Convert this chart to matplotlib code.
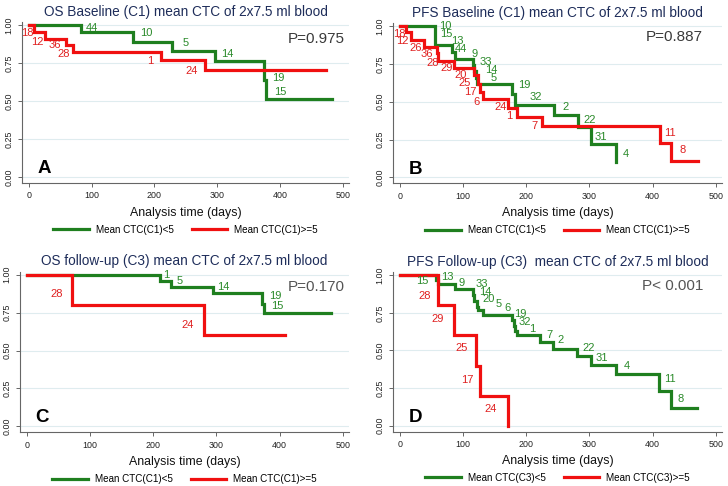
import matplotlib
matplotlib.use("Agg")
import matplotlib.pyplot as plt

plt.rcParams['font.family'] = ['Liberation Sans', 'DejaVu Sans']

GREEN = "#1f7f1f"
RED = "#f01010"
GREEN_TXT = "#2a8a2a"
RED_TXT = "#e02020"

# --- panel A: OS baseline ---
a_green_t = [0, 83, 166, 228, 296, 374, 377, 483]
a_green_s = [1, 0.955, 0.89, 0.83, 0.763, 0.638, 0.51, 0.51]
a_red_t = [0, 8, 26, 59, 71, 211, 281, 474]
a_red_s = [1, 0.955, 0.91, 0.868, 0.823, 0.77, 0.706, 0.706]
a_green_ids = ["44", "10", "5", "14", "19", "15"]
a_green_x = [100, 187, 250, 316, 397, 401]
a_green_y = [0.98, 0.945, 0.88, 0.81, 0.65, 0.56]
a_red_ids = ["18", "12", "36", "28", "1", "24"]
a_red_x = [-3, 14, 41, 56, 194, 259]
a_red_y = [0.95, 0.89, 0.87, 0.81, 0.76, 0.70]

# --- panel B: PFS baseline ---
b_green_t = [0, 56, 82, 87, 115, 118, 120, 122, 178, 182, 244, 282, 302, 342]
b_green_s = [1, 0.874, 0.83, 0.78, 0.74, 0.70, 0.66, 0.62, 0.55, 0.48,
             0.41, 0.33, 0.22, 0.105]
b_red_t = [0, 9.5, 17, 38.5, 58, 61, 85, 118, 123, 127, 132, 171, 186,
           225, 412, 429, 472]
b_red_s = [1, 0.96, 0.907, 0.863, 0.82, 0.77, 0.72, 0.676, 0.62, 0.566,
           0.516, 0.456, 0.397, 0.339, 0.229, 0.11, 0.11]
b_green_ids = ["10", "15", "13", "44", "9", "33", "14", "5", "19", "32",
               "2", "22", "31", "4"]
b_green_x = [72, 74, 91, 97, 118, 136, 144, 149, 197, 215, 262, 300, 318, 357]
b_green_y = [1.0, 0.945, 0.90, 0.846, 0.815, 0.764, 0.709, 0.654, 0.61,
             0.533, 0.467, 0.379, 0.268, 0.154]
b_red_ids = ["18", "12", "26", "36", "28", "29", "20", "25", "17", "6",
             "24", "1", "7", "11", "8"]
b_red_x = [-1, 4, 25, 43, 52, 74, 96, 103, 111, 122, 159, 173, 213, 428, 447]
b_red_y = [0.95, 0.90, 0.857, 0.815, 0.757, 0.72, 0.676, 0.625, 0.566,
           0.50, 0.467, 0.405, 0.339, 0.295, 0.18]

# --- panel C: OS follow-up ---
c_green_t = [0, 211, 228, 294, 373, 375, 482]
c_green_s = [1, 0.957, 0.92, 0.877, 0.81, 0.75, 0.75]
c_red_t = [0, 72, 280, 408]
c_red_s = [1, 0.80, 0.60, 0.60]
c_green_ids = ["1", "5", "14", "19", "15"]
c_green_x = [221, 242, 311, 393, 396]
c_green_y = [1.0, 0.96, 0.916, 0.857, 0.791]
c_red_ids = ["28", "24"]
c_red_x = [47, 254]
c_red_y = [0.873, 0.67]

# --- panel D: PFS follow-up ---
d_green_t = [0, 57, 61, 87, 115, 118, 122, 124, 132, 178, 180, 182, 185,
             222, 243, 281, 302, 342, 411, 429, 470]
d_green_s = [1, 0.97, 0.943, 0.911, 0.87, 0.83, 0.79, 0.768, 0.734, 0.70,
             0.665, 0.63, 0.60, 0.557, 0.512, 0.462, 0.406, 0.346, 0.233,
             0.118, 0.118]
d_red_t = [0, 60, 85, 121, 126, 170.5]
d_red_s = [1, 0.80, 0.60, 0.40, 0.20, 0.0]
d_green_ids = ["15", "13", "9", "33", "14", "20", "5", "6", "19", "32",
               "1", "7", "2", "22", "31", "4", "11", "8"]
d_green_x = [36, 75, 98, 129, 135, 141, 157, 170, 191, 197, 209, 237, 254,
             299, 320, 360, 427, 445]
d_green_y = [0.96, 0.987, 0.95, 0.94, 0.89, 0.84, 0.81, 0.783, 0.745, 0.69,
             0.643, 0.605, 0.568, 0.517, 0.45, 0.40, 0.31, 0.18]
d_red_ids = ["28", "29", "25", "17", "24"]
d_red_x = [39, 60, 97, 106, 143]
d_red_y = [0.865, 0.71, 0.517, 0.306, 0.111]

titles = ["OS Baseline (C1) mean CTC of 2x7.5 ml blood",
          "PFS Baseline (C1) mean CTC of 2x7.5 ml blood",
          "OS follow-up (C3) mean CTC of 2x7.5 ml blood",
          "PFS Follow-up (C3)  mean CTC of 2x7.5 ml blood"]
p_values = ["P=0.975", "P=0.887", "P=0.170", "P< 0.001"]
letters = ["A", "B", "C", "D"]
legend_labels = [["Mean CTC(C1)<5", "Mean CTC(C1)>=5"],
                 ["Mean CTC(C1)<5", "Mean CTC(C1)>=5"],
                 ["Mean CTC(C1)<5", "Mean CTC(C1)>=5"],
                 ["Mean CTC(C3)<5", "Mean CTC(C3)>=5"]]
x_ticks = [0, 100, 200, 300, 400, 500]
y_ticks = [0.0, 0.25, 0.5, 0.75, 1.0]


def draw_panel(ax, idx, green, red, green_lab, red_lab, p_xy, p_color):
    ax.step(green[0], green[1], where="post", color=GREEN, lw=2.3,
            solid_joinstyle="miter")
    ax.step(red[0], red[1], where="post", color=RED, lw=2.3,
            solid_joinstyle="miter")
    for txt, x, y in zip(*green_lab):
        ax.text(x, y, txt, color=GREEN_TXT, fontsize=8,
                ha="center", va="center")
    for txt, x, y in zip(*red_lab):
        ax.text(x, y, txt, color=RED_TXT, fontsize=8,
                ha="center", va="center")
    ax.text(p_xy[0], p_xy[1], p_values[idx], color=p_color, fontsize=11,
            ha="right", va="center")
    ax.text(24, 0.055, letters[idx], fontsize=13.5, fontweight="bold",
            ha="center", va="center")

    ax.set_xlim(-11, 510)
    ax.set_ylim(-0.04, 1.02)
    ax.set_xticks(x_ticks)
    ax.set_yticks(y_ticks)
    ax.set_yticklabels([f"{v:.2f}" for v in y_ticks], rotation=90,
                       va="center")
    ax.grid(axis="y", color="#dfecef", lw=0.8)
    ax.set_axisbelow(True)
    for s in ["top", "right"]:
        ax.spines[s].set_visible(False)
    for s in ["left", "bottom"]:
        ax.spines[s].set_color("#666666")
        ax.spines[s].set_linewidth(0.8)
    ax.tick_params(labelsize=6.4, length=3, width=0.7, color="#666666",
                   labelcolor="#222222", pad=3)
    ax.set_title(titles[idx], fontsize=9.8, color="#1e2d5a", pad=4.5)
    ax.set_xlabel("Analysis time (days)", fontsize=8.9, color="#111111",
                  labelpad=4.5)
    handles = [plt.Line2D([], [], color=GREEN, lw=2.3),
               plt.Line2D([], [], color=RED, lw=2.3)]
    ax.legend(handles, legend_labels[idx], loc="center",
              bbox_to_anchor=(0.5, -0.29), ncol=2, frameon=False,
              fontsize=7.1, handlelength=3.6, handletextpad=0.7,
              columnspacing=1.8)


fig = plt.figure(figsize=(7.28, 4.86), dpi=100)
W, H = 728, 486
boxes = [(22, 183, 327, 161), (393, 183.5, 329, 160.5),
         (20, 432.4, 329, 160.7), (393, 431.7, 329, 159.4)]
axes = [fig.add_axes([l / W, 1 - b / H, w / W, h / H])
        for l, b, w, h in boxes]

draw_panel(axes[0], 0, (a_green_t, a_green_s), (a_red_t, a_red_s),
           (a_green_ids, a_green_x, a_green_y),
           (a_red_ids, a_red_x, a_red_y), (503, 0.91), "#3a3a3a")
draw_panel(axes[1], 1, (b_green_t, b_green_s), (b_red_t, b_red_s),
           (b_green_ids, b_green_x, b_green_y),
           (b_red_ids, b_red_x, b_red_y), (480, 0.925), "#3a3a3a")
draw_panel(axes[2], 2, (c_green_t, c_green_s), (c_red_t, c_red_s),
           (c_green_ids, c_green_x, c_green_y),
           (c_red_ids, c_red_x, c_red_y), (503, 0.916), "#555555")
draw_panel(axes[3], 3, (d_green_t, d_green_s), (d_red_t, d_red_s),
           (d_green_ids, d_green_x, d_green_y),
           (d_red_ids, d_red_x, d_red_y), (481, 0.927), "#555555")

fig.savefig("out.png", dpi=100)
